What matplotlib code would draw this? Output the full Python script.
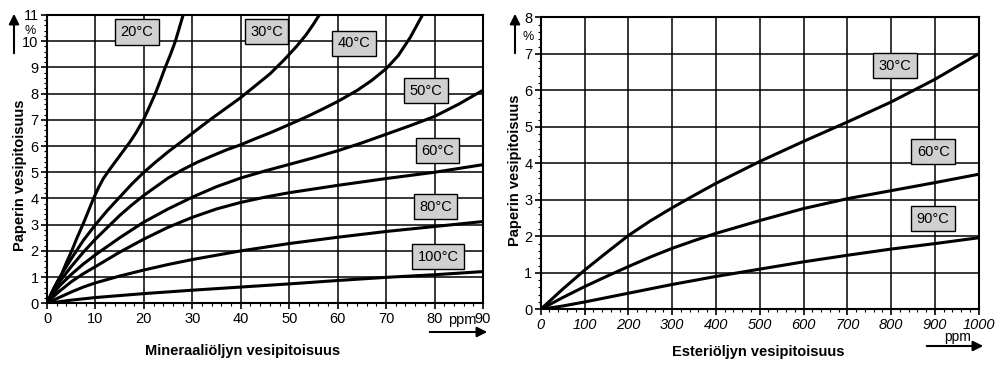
import matplotlib
matplotlib.use("Agg")
import matplotlib.pyplot as plt
from matplotlib.ticker import MultipleLocator
from matplotlib.patches import FancyArrowPatch

plt.rcParams['font.family'] = ['Liberation Sans', 'DejaVu Sans']

# ---------------- Data: left chart (mineral oil) ----------------
min_labels = ["20°C", "30°C", "40°C", "50°C", "60°C", "80°C", "100°C"]
min_x_20 = [0, 0.6, 1.5, 3, 4, 5.1, 6.2, 7.4, 8.5, 9.6, 10.6, 11.6, 12.9, 14.3, 15.7,
            17.1, 18.35, 19.9, 21.15, 22.35, 23.4, 24.4, 25.5, 26.5, 27.3, 28.1]
min_y_20 = [0, 0.25, 0.6, 1.1, 1.55, 2, 2.5, 3, 3.5, 4, 4.4, 4.75, 5.1, 5.45, 5.8,
            6.15, 6.5, 7, 7.5, 8, 8.5, 9, 9.5, 10, 10.5, 11]
min_x_30 = [0, 1, 2.5, 5, 7.5, 10, 12.5, 15, 17.5, 20, 22.5, 25, 28, 31, 34, 37, 40,
            43, 46, 49, 51.5, 53.5, 55, 56.2]
min_y_30 = [0, 0.42, 0.95, 1.7, 2.4, 3.0, 3.55, 4.05, 4.55, 5.0, 5.4, 5.78, 6.2, 6.63,
            7.05, 7.45, 7.85, 8.3, 8.75, 9.3, 9.8, 10.25, 10.65, 11]
min_x_40 = [0, 1, 2.5, 5, 7.5, 10, 12.5, 15, 17.5, 20, 22.5, 25, 28, 31, 34, 37, 40,
            43, 46, 50, 54, 57, 60, 64, 67, 70, 72.5, 75, 77.5]
min_y_40 = [0, 0.35, 0.8, 1.4, 1.95, 2.45, 2.9, 3.35, 3.75, 4.12, 4.45, 4.78, 5.1, 5.38,
            5.62, 5.85, 6.05, 6.28, 6.5, 6.82, 7.15, 7.42, 7.7, 8.12, 8.5, 8.95, 9.45,
            10.15, 11]
min_x_50 = [0, 1, 2.5, 5, 7.5, 10, 15, 20, 25, 30, 35, 40, 45, 50, 55, 60, 65, 70, 75,
            80, 85, 90]
min_y_50 = [0, 0.28, 0.65, 1.1, 1.5, 1.85, 2.5, 3.1, 3.6, 4.05, 4.45, 4.78, 5.05, 5.3,
            5.55, 5.82, 6.12, 6.45, 6.78, 7.13, 7.6, 8.13]
min_x_60 = [0, 1, 2.5, 5, 7.5, 10, 15, 20, 25, 30, 35, 40, 45, 50, 55, 60, 70, 80, 90]
min_y_60 = [0, 0.2, 0.45, 0.82, 1.13, 1.4, 1.95, 2.45, 2.9, 3.28, 3.6, 3.85, 4.05, 4.22,
            4.36, 4.5, 4.76, 5.0, 5.29]
min_x_80 = [0, 2.5, 5, 7.5, 10, 15, 20, 25, 30, 40, 50, 60, 70, 80, 90]
min_y_80 = [0, 0.22, 0.43, 0.62, 0.78, 1.04, 1.27, 1.48, 1.67, 2.0, 2.28, 2.52, 2.74,
            2.93, 3.12]
min_x_100 = [0, 5, 10, 20, 30, 40, 50, 60, 70, 80, 90]
min_y_100 = [0, 0.12, 0.22, 0.37, 0.5, 0.62, 0.74, 0.87, 0.99, 1.09, 1.21]

min_label_x = [18.6, 45.3, 63.3, 78.2, 80.6, 80.2, 80.7]
min_label_y = [10.35, 10.37, 9.93, 8.11, 5.83, 3.68, 1.77]

# ---------------- Data: right chart (ester oil) ----------------
est_labels = ["30°C", "60°C", "90°C"]
est_x = [0, 50, 100, 150, 200, 250, 300, 350, 400, 500, 600, 700, 800, 900, 1000]
est_y_30 = [0, 0.55, 1.07, 1.55, 2.02, 2.42, 2.78, 3.12, 3.45, 4.05, 4.6, 5.13, 5.68, 6.3, 7.0]
est_y_60 = [0, 0.32, 0.62, 0.9, 1.17, 1.43, 1.67, 1.88, 2.08, 2.43, 2.76, 3.03, 3.25, 3.47, 3.7]
est_y_90 = [0, 0.09, 0.2, 0.32, 0.44, 0.56, 0.68, 0.79, 0.9, 1.1, 1.3, 1.48, 1.65, 1.8, 1.96]

est_label_x = [808, 896, 896]
est_label_y = [6.67, 4.32, 2.48]

left_xticks = [0, 10, 20, 30, 40, 50, 60, 70, 80, 90]
left_yticks = list(range(0, 12))
right_xticks = [0, 100, 200, 300, 400, 500, 600, 700, 800, 900, 1000]
right_yticks = list(range(0, 9))

W, H = 1005, 371
fig = plt.figure(figsize=(W / 100, H / 100), dpi=100)

def px_axes(l, t, r, b):
    return fig.add_axes([l / W, (H - b) / H, (r - l) / W, (b - t) / H])

ax1 = px_axes(47, 15, 483, 303.3)
ax2 = px_axes(540.7, 17.3, 978.7, 309.3)

box = dict(boxstyle='square,pad=0.38', fc='#d0d0d0', ec='black', lw=1.0)

def style(ax, xmax, ymax, xmaj, xmin, ymin_step):
    ax.set_xlim(0, xmax)
    ax.set_ylim(0, ymax)
    ax.xaxis.set_major_locator(MultipleLocator(xmaj))
    ax.xaxis.set_minor_locator(MultipleLocator(xmin))
    ax.yaxis.set_major_locator(MultipleLocator(1))
    ax.yaxis.set_minor_locator(MultipleLocator(ymin_step))
    ax.grid(True, which='major', color='black', lw=1.1)
    for s in ax.spines.values():
        s.set_linewidth(1.5)
    ax.tick_params(which='major', direction='out', length=4, width=1.2,
                   labelsize=10.5, pad=2)
    ax.tick_params(which='minor', direction='out', length=2.5, width=0.8)

# Left chart
curves_min = [(min_x_20, min_y_20), (min_x_30, min_y_30), (min_x_40, min_y_40),
              (min_x_50, min_y_50), (min_x_60, min_y_60), (min_x_80, min_y_80),
              (min_x_100, min_y_100)]
for xs, ys in curves_min:
    ax1.plot(xs, ys, color='black', lw=2.2, solid_joinstyle='round',
             solid_capstyle='round', zorder=3)
for lab, lx, ly in zip(min_labels, min_label_x, min_label_y):
    ax1.text(lx, ly, lab, ha='center', va='center', fontsize=10.5, bbox=box, zorder=4)
style(ax1, 90, 11, 10, 2, 0.2)
ax1.set_xticks(left_xticks)
ax1.set_yticks(left_yticks)

# Right chart
for ys in (est_y_30, est_y_60, est_y_90):
    ax2.plot(est_x, ys, color='black', lw=2.2, solid_joinstyle='round',
             solid_capstyle='round', zorder=3)
for lab, lx, ly in zip(est_labels, est_label_x, est_label_y):
    ax2.text(lx, ly, lab, ha='center', va='center', fontsize=10.5, bbox=box, zorder=4)
style(ax2, 1000, 8, 100, 20, 0.2)
ax2.set_xticks(right_xticks)
ax2.set_yticks(right_yticks)
for lab in ax2.get_xticklabels():
    lab.set_style('italic')

# Axis titles
fig.text(20 / W, 1 - 175 / H, "Paperin vesipitoisuus", rotation=90, ha='center',
         va='center', fontsize=10.5, fontweight='bold')
fig.text(515 / W, 1 - 170 / H, "Paperin vesipitoisuus", rotation=90, ha='center',
         va='center', fontsize=10.5, fontweight='bold')
fig.text(243 / W, 1 - 351 / H, "Mineraaliöljyn vesipitoisuus", ha='center',
         va='center', fontsize=10.5, fontweight='bold')
fig.text(758 / W, 1 - 352 / H, "Esteriöljyn vesipitoisuus", ha='center',
         va='center', fontsize=10.5, fontweight='bold')

# Units and arrows
def figarrow(x0, y0, x1, y1):
    fig.patches.append(FancyArrowPatch(
        (x0 / W, 1 - y0 / H), (x1 / W, 1 - y1 / H), transform=fig.transFigure,
        arrowstyle='-|>,head_length=6,head_width=3', color='black', lw=1.5,
        mutation_scale=1))

figarrow(14, 56, 14, 11)
figarrow(515, 56, 515, 11)
figarrow(427, 332, 490, 332)
figarrow(924, 346, 986, 346)
fig.text(30 / W, 1 - 31 / H, "%", ha='center', va='center', fontsize=9)
fig.text(528 / W, 1 - 37 / H, "%", ha='center', va='center', fontsize=9)
fig.text(462 / W, 1 - 320 / H, "ppm", ha='center', va='center', fontsize=10.5)
fig.text(958 / W, 1 - 337 / H, "ppm", ha='center', va='center', fontsize=10)

fig.savefig("out.png", dpi=100, facecolor='white')
